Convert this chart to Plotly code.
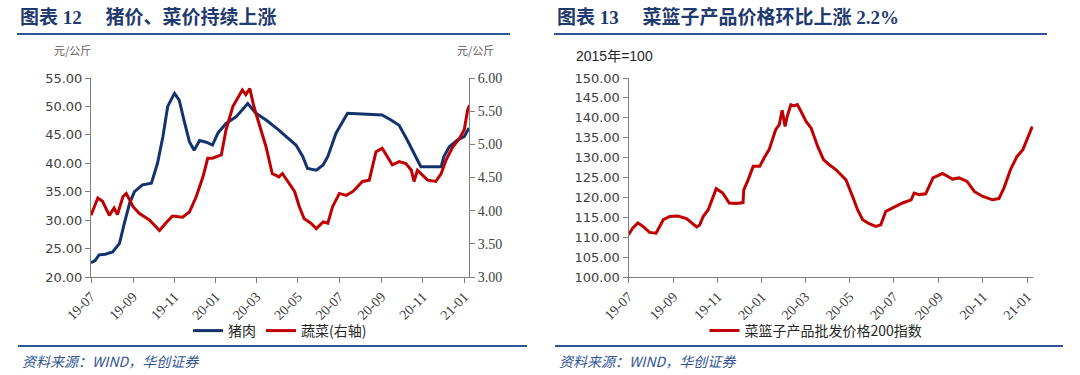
import plotly.graph_objects as go

# ---------------- data ----------------
pork_dates = ["2019-07-01","2019-07-07","2019-07-13","2019-07-22","2019-08-02","2019-08-12","2019-08-19",
              "2019-08-27","2019-09-03","2019-09-15","2019-09-28","2019-10-07","2019-10-15","2019-10-22",
              "2019-11-01","2019-11-08","2019-11-15","2019-11-23","2019-11-30","2019-12-08","2019-12-18",
              "2019-12-27","2020-01-04","2020-01-16","2020-01-31","2020-02-17","2020-02-29","2020-03-15",
              "2020-04-01","2020-04-14","2020-04-28","2020-05-08","2020-05-15","2020-05-28","2020-06-07",
              "2020-06-14","2020-06-26","2020-07-13","2020-07-30","2020-08-14","2020-09-02","2020-09-15",
              "2020-09-27","2020-10-09","2020-10-22","2020-10-29","2020-11-15","2020-11-28","2020-12-02",
              "2020-12-10","2020-12-22","2021-01-01","2021-01-08"]
pork_vals = [22.5,22.9,23.9,24.0,24.4,25.9,29.4,33.0,35.0,36.2,36.5,40.0,44.7,50.0,52.3,51.1,47.6,43.8,42.3,
             44.0,43.7,43.2,45.3,47.0,48.2,50.5,48.8,47.6,46.0,44.7,43.2,41.2,39.1,38.8,39.7,41.2,45.3,48.8,
             48.7,48.5,48.5,47.6,46.7,44.1,40.9,39.4,39.4,39.4,41.2,42.9,44.1,44.7,46.2]

veg_dates = ["2019-07-01","2019-07-11","2019-07-18","2019-07-28","2019-08-04","2019-08-09","2019-08-17",
             "2019-08-22","2019-09-01","2019-09-10","2019-09-25","2019-10-10","2019-10-19","2019-10-29",
             "2019-11-13","2019-11-23","2019-12-03","2019-12-13","2019-12-20","2019-12-27","2020-01-09",
             "2020-01-16","2020-01-26","2020-02-09","2020-02-14","2020-02-20","2020-02-26","2020-03-07",
             "2020-03-15","2020-03-24","2020-04-03","2020-04-08","2020-04-16","2020-04-26","2020-05-03",
             "2020-05-10","2020-05-20","2020-05-28","2020-06-07","2020-06-14","2020-06-21","2020-07-01",
             "2020-07-11","2020-07-21","2020-08-04","2020-08-14","2020-08-24","2020-09-02","2020-09-10",
             "2020-09-17","2020-09-27","2020-10-07","2020-10-15","2020-10-19","2020-10-24","2020-10-31",
             "2020-11-08","2020-11-20","2020-11-28","2020-12-05","2020-12-15","2020-12-25","2021-01-01",
             "2021-01-06","2021-01-09"]
veg_vals = [3.93,4.19,4.14,3.93,4.04,3.94,4.21,4.26,4.06,3.96,3.86,3.70,3.81,3.92,3.90,3.98,4.21,4.51,4.79,
            4.79,4.84,5.22,5.57,5.82,5.75,5.84,5.57,5.25,4.96,4.56,4.51,4.56,4.44,4.29,4.06,3.88,3.81,3.73,
            3.83,3.81,4.06,4.26,4.23,4.29,4.44,4.46,4.89,4.94,4.81,4.69,4.74,4.71,4.61,4.44,4.61,4.54,4.46,
            4.44,4.56,4.76,4.96,5.09,5.22,5.52,5.59]

basket_dates = ["2019-07-01","2019-07-07","2019-07-14","2019-07-21","2019-07-30","2019-08-08","2019-08-13",
                "2019-08-18","2019-08-27","2019-09-07","2019-09-19","2019-09-26","2019-10-03","2019-10-07",
                "2019-10-12","2019-10-19","2019-10-26","2019-10-30","2019-11-08","2019-11-17","2019-11-27",
                "2019-12-06","2019-12-07","2019-12-13","2019-12-20","2019-12-29","2020-01-04","2020-01-11",
                "2020-01-20","2020-01-25","2020-01-29","2020-02-02","2020-02-05","2020-02-10","2020-02-14",
                "2020-02-19","2020-02-24","2020-03-02","2020-03-09","2020-03-18","2020-03-26","2020-04-03",
                "2020-04-12","2020-04-26","2020-05-05","2020-05-12","2020-05-19","2020-05-28","2020-06-06",
                "2020-06-13","2020-06-20","2020-06-29","2020-07-13","2020-07-25","2020-07-29","2020-08-05",
                "2020-08-14","2020-08-24","2020-09-06","2020-09-20","2020-09-29","2020-10-10","2020-10-20",
                "2020-10-31","2020-11-14","2020-11-23","2020-11-30","2020-12-09","2020-12-18","2020-12-26",
                "2021-01-01","2021-01-08"]
basket_vals = [110.6,112.3,113.6,112.7,111.2,111.0,112.7,114.4,115.2,115.3,114.7,113.6,112.6,113.0,115.2,
               116.9,120.3,122.2,121.1,118.6,118.5,118.7,121.9,124.4,127.8,127.8,129.9,132.0,137.0,138.3,
               141.9,137.8,140.4,143.3,143.0,143.3,141.6,139.1,137.4,132.8,129.5,128.2,127.0,124.4,120.3,
               116.9,114.4,113.4,112.7,113.1,116.5,117.3,118.6,119.4,121.1,120.7,120.9,124.9,126.0,124.6,
               124.9,124.0,121.5,120.3,119.4,119.7,122.4,127.0,130.3,132.0,134.9,137.8]

tick_dates = ["2019-07-01","2019-09-01","2019-11-01","2020-01-01","2020-03-01","2020-05-01",
              "2020-07-01","2020-09-01","2020-11-01","2021-01-01"]
tick_labels = ["19-07","19-09","19-11","20-01","20-03","20-05","20-07","20-09","20-11","21-01"]

left_title = "图表 12 　猪价、菜价持续上涨"
right_title = "图表 13 　菜篮子产品价格环比上涨 2.2%"
source_text = "资料来源：WIND，华创证券"

# ---------------- figure ----------------
W, H = 1080, 375
def px(x): return x / W
def py(y): return 1 - y / H

BLUE = "#13336f"
RED = "#c00000"
AX = "#7f7f7f"
TXT = "#404040"
CJK = "Noto Sans CJK SC"

fig = go.Figure()
fig.add_trace(go.Scatter(x=pork_dates, y=pork_vals, mode="lines", name="猪肉",
                         line=dict(color=BLUE, width=3), xaxis="x", yaxis="y", legend="legend"))
fig.add_trace(go.Scatter(x=veg_dates, y=veg_vals, mode="lines", name="蔬菜(右轴)",
                         line=dict(color=RED, width=3), xaxis="x", yaxis="y2", legend="legend"))
fig.add_trace(go.Scatter(x=basket_dates, y=basket_vals, mode="lines", name="菜篮子产品批发价格200指数",
                         line=dict(color=RED, width=3), xaxis="x2", yaxis="y3", legend="legend2"))

xcommon = dict(type="date", tickmode="array", tickvals=tick_dates, ticktext=tick_labels,
               tickangle=-45, showgrid=False, zeroline=False, showline=True, linecolor=AX, linewidth=1,
               ticks="outside", ticklen=5, tickcolor=AX, automargin=False,
               tickfont=dict(family="Liberation Serif, " + CJK, size=14, color=TXT))
ycommon = dict(showgrid=False, zeroline=False, showline=True, linecolor=AX, linewidth=1,
               ticks="outside", ticklen=5, tickcolor=AX, tickformat=".2f", automargin=False)

fig.update_layout(
    width=W, height=H, margin=dict(l=0, r=0, t=0, b=0, autoexpand=False),
    paper_bgcolor="white", plot_bgcolor="white",
    xaxis=dict(domain=[px(91), px(469)], range=["2019-07-01", "2021-01-08"], anchor="y", **xcommon),
    yaxis=dict(domain=[py(277), py(78)], range=[20, 55], dtick=5, anchor="x",
               tickfont=dict(family="DejaVu Sans", size=13, color=TXT), **ycommon),
    yaxis2=dict(overlaying="y", side="right", anchor="x", range=[3, 6], dtick=0.5,
                tickfont=dict(family="Liberation Serif", size=14, color=TXT), **ycommon),
    xaxis2=dict(domain=[px(628.5), px(1033)], range=["2019-07-01", "2021-01-09"], anchor="y3", **xcommon),
    yaxis3=dict(domain=[py(277), py(78)], range=[100, 150], dtick=5, anchor="x2",
                tickfont=dict(family="DejaVu Sans", size=13, color=TXT), **ycommon),
    legend=dict(orientation="h", x=px(280), y=py(331), xanchor="center", yanchor="middle",
                font=dict(family=CJK, size=14, color="#262626"), bgcolor="rgba(0,0,0,0)"),
    legend2=dict(orientation="h", x=px(816), y=py(331), xanchor="center", yanchor="middle",
                 font=dict(family=CJK, size=14, color="#262626"), bgcolor="rgba(0,0,0,0)"),
    showlegend=True,
)

# headers, footers
for x0, x1, tt in [(17, 510, left_title), (554, 1047, right_title)]:
    fig.add_annotation(xref="paper", yref="paper", x=px(x0 + 1), y=py(17), xanchor="left", yanchor="middle",
                       text="<b>" + tt + "</b>", showarrow=False,
                       font=dict(family="Liberation Serif, " + CJK, size=19, color="#1f3a70"))
    fig.add_shape(type="line", xref="paper", yref="paper", x0=px(x0), x1=px(x1), y0=py(34), y1=py(34),
                  line=dict(color="#2f5597", width=2))
for x0, x1 in [(18, 527), (555, 1063)]:
    fig.add_shape(type="line", xref="paper", yref="paper", x0=px(x0), x1=px(x1), y0=py(346), y1=py(346),
                  line=dict(color="#2f5597", width=2))
    fig.add_annotation(xref="paper", yref="paper", x=px(x0 + 2), y=py(361), xanchor="left", yanchor="middle",
                       text="<i>" + source_text + "</i>", showarrow=False,
                       font=dict(family=CJK, size=14, color="#2f5597"))

# unit labels
fig.add_annotation(xref="paper", yref="paper", x=px(72), y=py(50), xanchor="center", yanchor="middle",
                   text="元/公斤", showarrow=False, font=dict(family=CJK, size=11, color="#595959"))
fig.add_annotation(xref="paper", yref="paper", x=px(475), y=py(50), xanchor="center", yanchor="middle",
                   text="元/公斤", showarrow=False, font=dict(family=CJK, size=11, color="#595959"))
fig.add_annotation(xref="paper", yref="paper", x=px(574), y=py(56), xanchor="left", yanchor="middle",
                   text="2015年=100", showarrow=False,
                   font=dict(family="Liberation Sans, " + CJK, size=14, color="#262626"))

fig.write_html("out.html", config={"displayModeBar": False},
               post_script="document.body.style.margin='0px';")
